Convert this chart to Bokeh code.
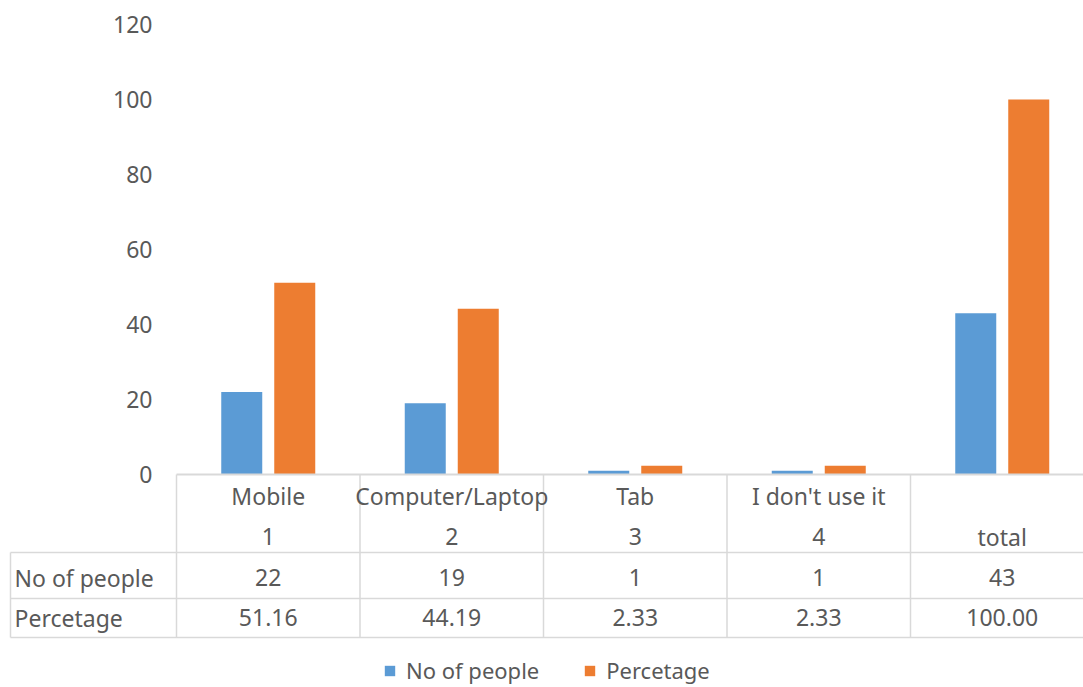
import numpy as np
from bokeh.plotting import figure
from bokeh.models import Range1d, ColumnDataSource, Legend, LegendItem
from bokeh.transform import dodge
from bokeh.core.properties import value
from bokeh.embed import file_html
from bokeh.resources import INLINE

# ---------------- data ----------------
categories = ["Mobile", "Computer/Laptop", "Tab", "I don't use it", ""]
category_numbers = ["1", "2", "3", "4", "total"]
no_of_people = [22, 19, 1, 1, 43]
percentage = [51.16, 44.19, 2.33, 2.33, 100.00]
y_ticks = [0, 20, 40, 60, 80, 100, 120]
series_names = ["No of people", "Percetage"]

# ---------------- layout constants (pixels) ----------------
W, H = 1083, 687
X0 = 176.0    # left edge of the category area
CW = 183.5    # width of one category
Y0 = 474.0    # pixel row of value 0
YS = 3.75     # pixels per value unit

FONT = "Noto Sans"
FS = "23px"
TXT = "#595959"
GRID = "#D9D9D9"
BLUE = "#5B9BD5"
ORANGE = "#ED7D31"


def xd(px):
    return (px - X0) / CW


def yd(py):
    return (Y0 - py) / YS


p = figure(width=W, height=H, output_backend="svg", toolbar_location=None,
           x_range=Range1d(xd(0), xd(W)), y_range=Range1d(yd(H), yd(0)),
           x_axis_location=None, y_axis_location=None,
           min_border=0, min_border_left=0, min_border_right=0,
           min_border_top=0, min_border_bottom=0)
p.grid.visible = False
p.outline_line_color = None
p.background_fill_color = "white"
p.border_fill_color = "white"

n = len(categories)
cx = np.arange(n) + 0.5
src = ColumnDataSource(dict(xc=cx, people=no_of_people, pct=percentage))

bar_w = 41.0 / CW
off = 26.5 / CW
r1 = p.vbar(x=dodge("xc", -off, range=p.x_range), top="people", bottom=0,
            width=bar_w, source=src, fill_color=BLUE, line_color=None)
r2 = p.vbar(x=dodge("xc", off, range=p.x_range), top="pct", bottom=0,
            width=bar_w, source=src, fill_color=ORANGE, line_color=None)

# value-axis tick labels
p.text(x=[xd(152)] * len(y_ticks), y=y_ticks, text=[str(t) for t in y_ticks],
       text_align="right", text_baseline="middle", text_font=value(FONT),
       text_font_size=FS, text_color=TXT)

# ---------------- data table ----------------
row_lines = [552, 598, 637]
# category axis line
p.segment(x0=[0], y0=[0], x1=[xd(W)], y1=[0], line_color=GRID, line_width=2)
# horizontal row lines
p.segment(x0=[xd(10)] * len(row_lines), y0=[yd(r) for r in row_lines],
          x1=[xd(W)] * len(row_lines), y1=[yd(r) for r in row_lines],
          line_color=GRID, line_width=1.5)
# vertical category separators
bounds = np.arange(n + 1)
p.segment(x0=bounds, y0=[0] * len(bounds), x1=bounds, y1=[yd(637)] * len(bounds),
          line_color=GRID, line_width=1.5)
# left edge of row-label column
p.segment(x0=[xd(10)], y0=[yd(552)], x1=[xd(10)], y1=[yd(637)],
          line_color=GRID, line_width=1.5)

common = dict(text_align="center", text_baseline="middle", text_font=value(FONT),
              text_font_size=FS, text_color=TXT)
p.text(x=cx, y=[yd(495)] * n, text=categories, **common)
p.text(x=cx, y=[yd(536)] * n, text=category_numbers, **common)
p.text(x=cx, y=[yd(577)] * n, text=[str(v) for v in no_of_people], **common)
p.text(x=cx, y=[yd(617)] * n, text=[f"{v:.2f}" for v in percentage], **common)
p.text(x=[xd(14)] * 2, y=[yd(577), yd(617)], text=series_names,
       text_align="left", text_baseline="middle", text_font=value(FONT),
       text_font_size=FS, text_color=TXT)

# ---------------- legend ----------------
legend = Legend(items=[LegendItem(label=series_names[0], renderers=[r1]),
                       LegendItem(label=series_names[1], renderers=[r2])],
                orientation="horizontal", location=(383, 2),
                glyph_width=13, glyph_height=13, label_standoff=10, spacing=44,
                padding=0, margin=0, border_line_color=None,
                background_fill_alpha=0,
                label_text_font=FONT, label_text_font_size="22px",
                label_text_color=TXT)
p.add_layout(legend)

open("out.html", "w").write(file_html(p, INLINE))
